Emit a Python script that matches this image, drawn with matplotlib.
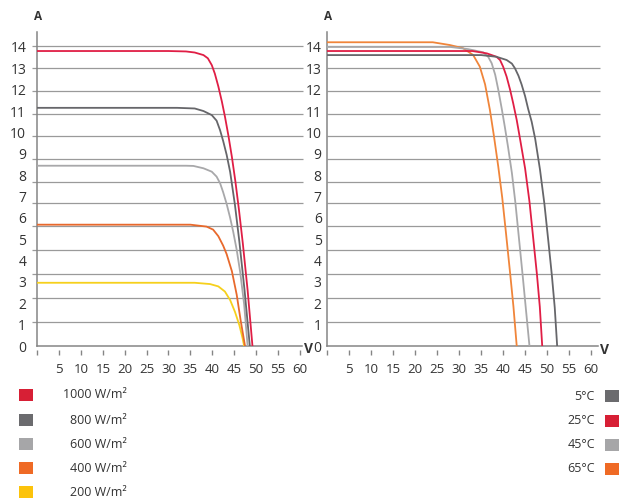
import matplotlib.pyplot as plt
from matplotlib.patches import Rectangle

plt.rcParams['font.family'] = ['Open Sans', 'DejaVu Sans']

TXT = '#333333'
GRID_C = '#9a9a9a'
AXIS_C = '#858585'

# --- irradiance curves (left panel), volts / amps
irr_labels = ['1000 W/m²', '800 W/m²', '600 W/m²', '400 W/m²', '200 W/m²']
irr_colors = ['#d71f35', '#6b6b6e', '#a6a6a8', '#ef6a25', '#fcc30b']
irr_line_colors = ['#e01e45', '#66666a', '#a8a8aa', '#e8692c', '#f6d01c']

v_1000 = [0, 30, 34, 36, 38, 39, 39.9, 40.6, 41.4, 42.2, 42.9, 43.7, 44.5, 45.3, 46.1, 47.0, 48.1, 49.2]
i_1000 = [13.81, 13.81, 13.79, 13.74, 13.62, 13.47, 13.15, 12.75, 12.15, 11.45, 10.75, 9.85, 8.85, 7.7, 6.4, 4.8, 2.6, 0]
v_800 = [0, 32, 36, 38, 39.9, 41.0, 41.8, 42.5, 43.3, 44.1, 45.2, 46.2, 47.4, 48.6]
i_800 = [11.15, 11.15, 11.12, 11.0, 10.81, 10.55, 10.1, 9.6, 8.95, 8.15, 6.6, 4.9, 2.6, 0]
v_600 = [0, 34, 35.7, 38, 39.9, 41.0, 41.8, 42.5, 43.3, 44.1, 44.8, 45.6, 46.4, 47.3, 48.1]
i_600 = [8.44, 8.44, 8.43, 8.32, 8.16, 7.93, 7.62, 7.2, 6.65, 6.0, 5.35, 4.5, 3.45, 1.95, 0]
v_400 = [0, 35, 38.7, 40.2, 41.4, 42.5, 43.3, 44.5, 45.6, 46.5, 47.5]
i_400 = [5.68, 5.68, 5.59, 5.45, 5.14, 4.7, 4.3, 3.5, 2.4, 1.2, 0]
v_200 = [0, 36, 39.5, 41.4, 42.9, 44.1, 45.2, 46.2, 46.9, 47.3]
i_200 = [2.96, 2.96, 2.9, 2.79, 2.55, 2.15, 1.6, 0.98, 0.4, 0]

irr_v = [v_1000, v_800, v_600, v_400, v_200]
irr_i = [i_1000, i_800, i_600, i_400, i_200]

# --- temperature curves (right panel)
temp_labels = ['5°C', '25°C', '45°C', '65°C']
temp_colors = ['#6b6b6e', '#d71f35', '#a6a6a8', '#ef6a25']
temp_line_colors = ['#66666a', '#e01e45', '#a8a8aa', '#f0853a']

v_5 = [0, 35, 38.5, 40.8, 42.0, 42.7, 43.5, 44.2, 45.0, 45.7, 46.5, 47.3, 48.4, 49.4, 50.3, 51.1, 51.75, 52.3]
i_5 = [13.62, 13.62, 13.54, 13.39, 13.22, 13.0, 12.65, 12.25, 11.7, 11.1, 10.5, 9.7, 8.25, 6.65, 4.9, 3.3, 1.8, 0]
v_25 = [0, 33, 36.3, 38.5, 39.3, 40.0, 40.8, 41.6, 42.3, 43.1, 43.8, 45.0, 46.0, 46.9, 47.7, 48.35, 48.9]
i_25 = [13.81, 13.81, 13.7, 13.54, 13.39, 13.08, 12.61, 11.99, 11.36, 10.58, 9.76, 8.32, 6.76, 4.95, 3.35, 1.84, 0]
v_45 = [0, 28, 32, 35.5, 36.6, 37.4, 38.2, 38.9, 39.7, 40.4, 41.1, 42.0, 42.8, 43.7, 44.5, 45.2, 46.0]
i_45 = [14.0, 14.0, 13.9, 13.75, 13.54, 13.24, 12.7, 12.0, 11.1, 10.25, 9.35, 8.1, 6.7, 4.85, 3.2, 1.7, 0]
v_65 = [0, 24, 27.9, 30.9, 33.2, 34.7, 35.9, 37.0, 37.9, 38.9, 39.8, 40.7, 41.6, 42.35, 43.1]
i_65 = [14.22, 14.22, 14.09, 13.94, 13.62, 13.08, 12.25, 11.05, 9.85, 8.4, 6.95, 5.2, 3.4, 1.85, 0]

temp_v = [v_5, v_25, v_45, v_65]
temp_i = [i_5, i_25, i_45, i_65]

x_ticks = list(range(0, 61, 5))
x_ticklabels = [''] + [str(t) for t in x_ticks[1:]]
y_ticks = list(range(0, 15))
# the printed grid does not sit on the integer labels
grid_levels = [1.12, 2.26, 3.38, 4.51, 5.63, 6.68, 7.69, 8.75, 9.82, 10.88, 11.94, 13.0, 14.06]

W, H = 619, 501
fig = plt.figure(figsize=(W / 100, H / 100), dpi=100)

y0_px, px_per_a = 346, 21.36
ytop = 14.7


def setup(ax, xmax, grid_from, grid_to, ylab_pad):
    ax.set_xlim(0, xmax)
    ax.set_ylim(0, ytop)
    for s in ['top', 'right']:
        ax.spines[s].set_visible(False)
    for s in ['left', 'bottom']:
        ax.spines[s].set_color(AXIS_C)
        ax.spines[s].set_linewidth(1.1)
    ax.hlines(grid_levels, grid_from, grid_to, colors=GRID_C, linewidth=0.9,
              clip_on=False, zorder=1)
    ax.set_yticks(y_ticks)
    ax.set_yticklabels([str(t) for t in y_ticks])
    ax.tick_params(axis='y', length=0, pad=ylab_pad, labelsize=10, labelcolor=TXT)
    ax.set_xticks(x_ticks)
    ax.set_xticklabels(x_ticklabels)
    ax.tick_params(axis='x', length=0, pad=12, labelsize=9.5, labelcolor=TXT)
    # tick marks sit a little below the axis line
    ax.vlines(x_ticks, -4 / 314, -9 / 314, transform=ax.get_xaxis_transform(),
              colors=AXIS_C, linewidth=1.0, clip_on=False)


# left panel
ax1 = fig.add_axes([37.3 / W, (H - y0_px) / H, 60.5 * 4.373 / W, ytop * px_per_a / H])
setup(ax1, 60.5, -1.3, 60.8, 8)
for v, i, c in reversed(list(zip(irr_v, irr_i, irr_line_colors))):
    ax1.plot(v, i, color=c, linewidth=1.3, zorder=3, solid_joinstyle='round')

# right panel
ax2 = fig.add_axes([327.3 / W, (H - y0_px) / H, 61.5 * 4.395 / W, ytop * px_per_a / H])
setup(ax2, 61.5, 0, 62.1, 4)
for v, i, c in reversed(list(zip(temp_v, temp_i, temp_line_colors))):
    ax2.plot(v, i, color=c, linewidth=1.3, zorder=3, solid_joinstyle='round')

# overlay in pixel coordinates for legends and unit letters
ov = fig.add_axes([0, 0, 1, 1], zorder=5)
ov.set_xlim(0, W)
ov.set_ylim(H, 0)
ov.axis('off')
ov.patch.set_alpha(0)

ov.text(37.7, 16, 'A', fontsize=8.5, fontweight='bold', color=TXT, ha='center', va='center')
ov.text(328, 16, 'A', fontsize=8.5, fontweight='bold', color=TXT, ha='center', va='center')
ov.text(308, 349, 'V', fontsize=10, fontweight='bold', color=TXT, ha='center', va='center')
ov.text(604.5, 350, 'V', fontsize=10, fontweight='bold', color=TXT, ha='center', va='center')

irr_y = [395, 420, 444, 468, 492]
for lab, c, y in zip(irr_labels, irr_colors, irr_y):
    ov.add_patch(Rectangle((18.5, y - 6), 14, 12, facecolor=c, edgecolor='none'))
    ov.text(127, y, lab, fontsize=9, color=TXT, ha='right', va='center')

temp_y = [396, 420.5, 445, 468.5]
for lab, c, y in zip(temp_labels, temp_colors, temp_y):
    ov.add_patch(Rectangle((605, y - 6), 13.5, 12, facecolor=c, edgecolor='none'))
    ov.text(595, y, lab, fontsize=9, color=TXT, ha='right', va='center')

fig.savefig('out.png', dpi=100)
